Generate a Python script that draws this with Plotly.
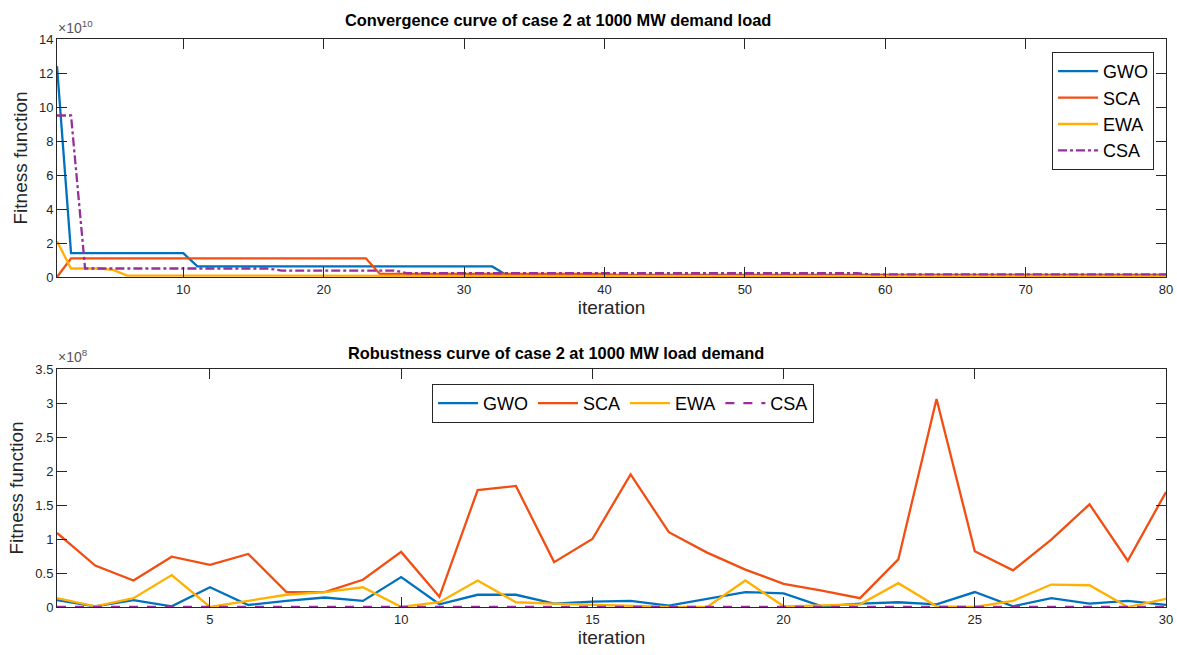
import plotly.graph_objects as go

# ---------------- data ----------------
# Convergence (top), values in units of 1e10, iterations 1..80
iters_conv = list(range(1, 81))
gwo_conv = ([12.4] + [1.4] * 9 + [0.62] * 22 + [0.12] * 48)
sca_conv = ([0.0] + [1.1] * 22 + [0.18] * 17 + [0.1] * 40)
ewa_conv = ([2.1, 0.5, 0.5, 0.5, 0.42] + [0.08] * 25 + [0.04] * 50)
csa_conv = ([9.5, 9.5] + [0.5] * 14 + [0.38] * 9 + [0.22] * 33 + [0.15] * 22)

# Robustness (bottom), values in units of 1e8, runs 1..30
iters_rob = list(range(1, 31))
gwo_rob = [0.10, 0.01, 0.10, 0.01, 0.29, 0.03, 0.09, 0.14, 0.09, 0.44,
           0.04, 0.18, 0.18, 0.05, 0.08, 0.09, 0.02, 0.12, 0.22, 0.20,
           0.01, 0.05, 0.07, 0.04, 0.22, 0.01, 0.13, 0.05, 0.09, 0.03]
sca_rob = [1.09, 0.61, 0.39, 0.74, 0.62, 0.78, 0.22, 0.22, 0.40, 0.81,
           0.15, 1.72, 1.78, 0.66, 1.00, 1.95, 1.10, 0.80, 0.55, 0.34,
           0.24, 0.13, 0.70, 3.06, 0.82, 0.54, 0.99, 1.51, 0.68, 1.69]
ewa_rob = [0.13, 0.01, 0.13, 0.47, 0.00, 0.09, 0.18, 0.22, 0.29, 0.00,
           0.07, 0.39, 0.07, 0.05, 0.03, 0.01, 0.00, 0.00, 0.39, 0.01,
           0.02, 0.04, 0.35, 0.01, 0.00, 0.09, 0.33, 0.32, 0.00, 0.12]
csa_rob = [0.002] * 30

names = ["GWO", "SCA", "EWA", "CSA"]
colors = ["#0072BD", "#F24E12", "#FFB000", "#9A2E9C"]

conv_tick_vals = [0, 2, 4, 6, 8, 10, 12, 14]
conv_x_ticks = [10, 20, 30, 40, 50, 60, 70, 80]
rob_tick_vals = [0, 0.5, 1, 1.5, 2, 2.5, 3, 3.5]
rob_tick_text = ["0", "0.5", "1", "1.5", "2", "2.5", "3", "3.5"]
rob_x_ticks = [5, 10, 15, 20, 25, 30]

# ---------------- figure ----------------
W, H = 1177, 655
ML, MR, MT, MB = 57, 11, 39, 48
PW, PH = W - ML - MR, H - MT - MB


def px_x(xp):
    return (xp - ML) / PW


def px_y(yp):
    return (H - MB - yp) / PH


fig = go.Figure()

conv_series = [gwo_conv, sca_conv, ewa_conv, csa_conv]
for name, col, ys in zip(names, colors, conv_series):
    fig.add_trace(go.Scatter(
        x=iters_conv, y=ys, mode="lines", name=name,
        line=dict(color=col, width=2.3, dash="dashdot" if name == "CSA" else "solid"),
        xaxis="x", yaxis="y", legend="legend"))

rob_series = [gwo_rob, sca_rob, ewa_rob, csa_rob]
for name, col, ys in zip(names, colors, rob_series):
    fig.add_trace(go.Scatter(
        x=iters_rob, y=ys, mode="lines", name=name,
        line=dict(color=col, width=2.3, dash="dash" if name == "CSA" else "solid"),
        xaxis="x2", yaxis="y2", legend="legend2"))

FONT = "Liberation Sans, Arial, sans-serif"
AX = "#262626"


def axis_common():
    return dict(showline=True, linecolor=AX, linewidth=1, mirror="ticks",
                ticks="inside", ticklen=10, tickcolor=AX, tickwidth=1,
                showgrid=False, zeroline=False, automargin=False,
                tickfont=dict(family=FONT, size=13, color=AX))


fig.update_layout(
    width=W, height=H,
    margin=dict(l=ML, r=MR, t=MT, b=MB, autoexpand=False),
    paper_bgcolor="white", plot_bgcolor="white",
    font=dict(family=FONT, color=AX),
    xaxis=dict(domain=[0, 1], range=[1, 80], tickvals=conv_x_ticks, anchor="y",
               title=dict(text="iteration", font=dict(size=19, color=AX), standoff=4),
               **axis_common()),
    yaxis=dict(domain=[px_y(277), px_y(39)], range=[0, 14], tickvals=conv_tick_vals,
               anchor="x",
               title=dict(text="Fitness function", font=dict(size=19, color=AX), standoff=6),
               **axis_common()),
    xaxis2=dict(domain=[0, 1], range=[1, 30], tickvals=rob_x_ticks, anchor="y2",
                title=dict(text="iteration", font=dict(size=19, color=AX), standoff=4),
                **axis_common()),
    yaxis2=dict(domain=[px_y(607), px_y(369)], range=[0, 3.5], tickvals=rob_tick_vals,
                ticktext=rob_tick_text, anchor="x2",
                title=dict(text="Fitness function", font=dict(size=19, color=AX), standoff=6),
                **axis_common()),
    legend=dict(x=px_x(1154), y=px_y(52), xanchor="right", yanchor="top",
                orientation="v", bgcolor="white", bordercolor=AX, borderwidth=1,
                font=dict(family=FONT, size=18, color="black"),
                itemwidth=40, tracegroupgap=0),
    legend2=dict(x=px_x(623), y=px_y(384), xanchor="center", yanchor="top",
                 orientation="h", bgcolor="white", bordercolor=AX, borderwidth=1,
                 font=dict(family=FONT, size=18, color="black"),
                 itemwidth=40),
    showlegend=True,
)

annotations = [
    dict(text="<b>Convergence curve of case 2 at 1000 MW demand load</b>",
         x=px_x(558), y=px_y(20), xref="paper", yref="paper",
         xanchor="center", yanchor="middle", showarrow=False,
         font=dict(family=FONT, size=16.4, color="black")),
    dict(text="<b>Robustness curve of case 2 at 1000 MW load demand</b>",
         x=px_x(556), y=px_y(353), xref="paper", yref="paper",
         xanchor="center", yanchor="middle", showarrow=False,
         font=dict(family=FONT, size=16.4, color="black")),
    dict(text="×10<sup>10</sup>", x=px_x(56), y=px_y(38), xref="paper", yref="paper",
         xanchor="left", yanchor="bottom", showarrow=False,
         font=dict(family=FONT, size=14, color="#555555")),
    dict(text="×10<sup>8</sup>", x=px_x(56), y=px_y(367), xref="paper", yref="paper",
         xanchor="left", yanchor="bottom", showarrow=False,
         font=dict(family=FONT, size=14, color="#555555")),
]
fig.update_layout(annotations=annotations)

fig.write_html("out.html",
               config={"displayModeBar": False},
               post_script="document.body.style.margin='0';document.body.style.overflow='hidden';")
